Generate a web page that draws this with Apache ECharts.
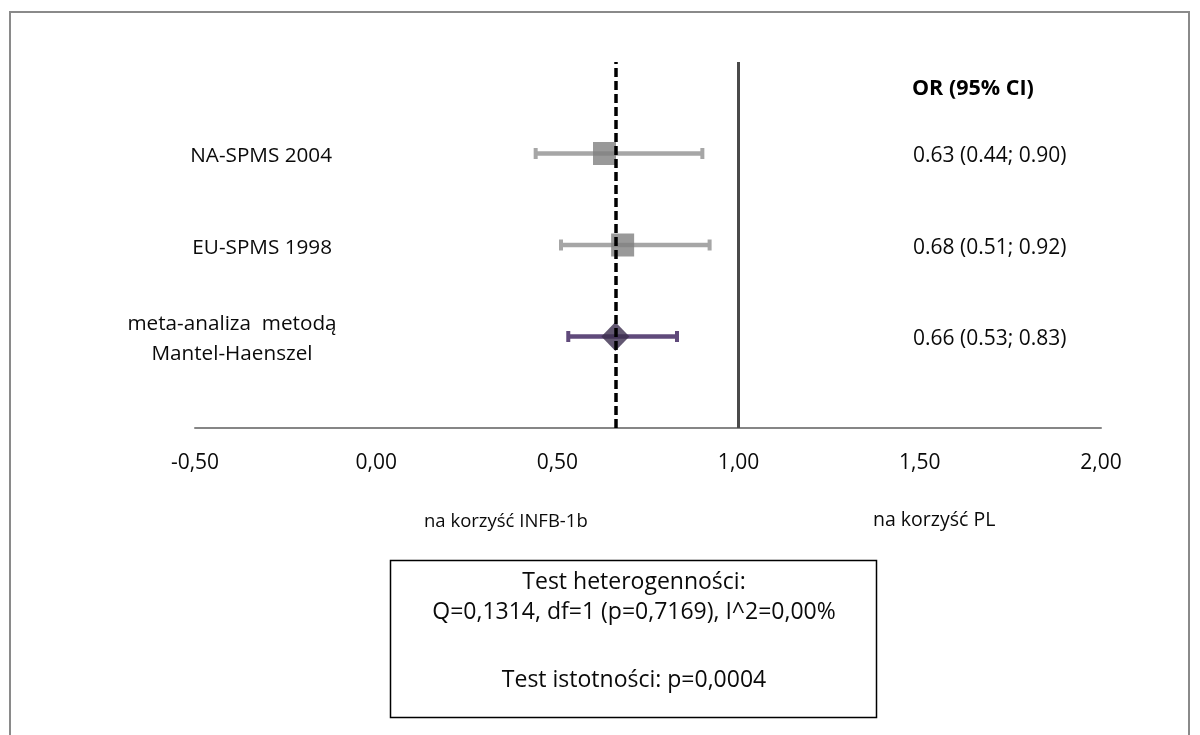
<!DOCTYPE html>
<html>
<head>
<meta charset="utf-8">
<script src="https://cdn.jsdelivr.net/npm/echarts@6/dist/echarts.min.js"></script>
<style>
  html, body { margin: 0; padding: 0; background: #ffffff; }
  #chart { width: 1200px; height: 735px; }
</style>
</head>
<body>
<div id="chart"></div>
<script>
// Forest plot: odds ratios with 95% confidence intervals
const studies = ['NA-SPMS 2004', 'EU-SPMS 1998', 'meta-analiza  metodą\nMantel-Haenszel'];
const rowPos = [3, 2, 1];
const orValues = [0.63, 0.68, 0.66];
const ciLow = [0.44, 0.51, 0.53];
const ciHigh = [0.90, 0.92, 0.83];
const pooledOR = 0.66;
const noEffect = 1.0;
const xMin = -0.5, xMax = 2.0, xStep = 0.5;

const FONT = '"Open Sans", "DejaVu Sans", sans-serif';
const INK = '#0a0a0a';

const orLabels = orValues.map((v, i) =>
  v.toFixed(2) + ' (' + ciLow[i].toFixed(2) + '; ' + ciHigh[i].toFixed(2) + ')');

const studyRows = [0, 1];   // individual trials
const pooledRow = 2;        // Mantel-Haenszel summary

const chart = echarts.init(document.getElementById('chart'), null, { renderer: 'canvas' });

// single-line names are right-aligned; two-line names are centred in a fixed box
function studyLabel(v) {
  const i = rowPos.indexOf(v);
  if (i < 0) return '';
  const lines = studies[i].split('\n');
  if (lines.length === 1) return '{s|' + lines[0] + '}';
  return lines.map(s => '{m|' + s + '}').join('\n');
}

function orLabel(v) {
  const i = rowPos.indexOf(v);
  return i < 0 ? '' : '{r|' + orLabels[i] + '}';
}

const option = {
  animation: false,
  backgroundColor: '#ffffff',
  grid: { left: 195, right: 99, top: 62, bottom: 307, containLabel: false },
  xAxis: {
    type: 'value',
    min: xMin, max: xMax, interval: xStep,
    axisLine: { show: true, onZero: false, lineStyle: { color: '#868686', width: 2 } },
    axisTick: { show: false },
    splitLine: { show: false },
    axisLabel: {
      margin: 25,
      color: INK,
      fontFamily: FONT,
      fontSize: 21,
      formatter: v => v.toFixed(2).replace('.', ',')
    }
  },
  yAxis: [
    {
      type: 'value', min: 0, max: 4, interval: 1, position: 'left',
      axisLine: { show: false }, axisTick: { show: false }, splitLine: { show: false },
      axisLabel: {
        margin: -137,
        align: 'right',
        color: INK,
        fontFamily: FONT,
        fontSize: 20.7,
        padding: [6, 0, 0, 0],
        formatter: studyLabel,
        rich: {
          s: { fontFamily: FONT, fontSize: 20.7, lineHeight: 30, color: INK },
          m: { width: 200, align: 'center', fontFamily: FONT, fontSize: 20.7, lineHeight: 30, color: INK }
        }
      }
    },
    {
      type: 'value', min: 0, max: 4, interval: 1, position: 'right',
      axisLine: { show: false }, axisTick: { show: false }, splitLine: { show: false },
      axisLabel: {
        margin: -188,
        align: 'left',
        color: INK,
        fontFamily: FONT,
        fontSize: 21,
        formatter: orLabel,
        rich: {
          r: { fontFamily: FONT, fontSize: 21, lineHeight: 26, color: INK, padding: [6, 0, 0, 0] }
        }
      }
    }
  ],
  series: [
    {
      // confidence interval whiskers with end caps
      type: 'custom',
      z: 2,
      data: rowPos.map((y, i) => [y, ciLow[i], ciHigh[i], i === pooledRow ? 1 : 0]),
      encode: { x: [1, 2], y: 0 },
      renderItem: function (params, api) {
        const y = api.value(0);
        const p1 = api.coord([api.value(1), y]);
        const p2 = api.coord([api.value(2), y]);
        const pooled = api.value(3) === 1;
        const color = pooled ? '#604A7B' : '#A6A6A6';
        const w = 4.5;
        const capH = 11, capW = 4;
        return {
          type: 'group',
          children: [
            { type: 'line', shape: { x1: p1[0], y1: p1[1], x2: p2[0], y2: p2[1] },
              style: { stroke: color, lineWidth: w } },
            { type: 'rect', shape: { x: p1[0] - capW / 2, y: p1[1] - capH / 2, width: capW, height: capH },
              style: { fill: color } },
            { type: 'rect', shape: { x: p2[0] - capW / 2, y: p2[1] - capH / 2, width: capW, height: capH },
              style: { fill: color } }
          ]
        };
      }
    },
    {
      // individual trial estimates
      type: 'scatter',
      z: 3,
      symbol: 'rect',
      symbolSize: 23,
      itemStyle: { color: '#7F7F7F' },
      data: studyRows.map(i => [orValues[i], rowPos[i]])
    },
    {
      // pooled estimate
      type: 'scatter',
      z: 3,
      symbol: 'diamond',
      symbolSize: [28, 29],
      itemStyle: { color: '#3B2D4E' },
      data: [[orValues[pooledRow], rowPos[pooledRow]]]
    },
    {
      // reference lines: no effect and pooled OR
      type: 'line',
      z: 5,
      data: [],
      markLine: {
        silent: true,
        symbol: ['none', 'none'],
        label: { show: false },
        data: [
          { xAxis: noEffect, lineStyle: { color: '#4A4A4A', width: 3, type: 'solid' } },
          { xAxis: pooledOR, lineStyle: { color: '#000000', width: 3.5, type: [9, 4] } }
        ]
      }
    }
  ],
  graphic: [
    { type: 'rect', z: 0, silent: true,
      shape: { x: 10, y: 12, width: 1179, height: 760 },
      style: { fill: 'none', stroke: '#8A8A8A', lineWidth: 2 } },
    { type: 'text', x: 912, y: 89,
      style: { text: 'OR (95% CI)', font: 'bold 21.5px ' + FONT, fill: '#000000',
               textAlign: 'left', textVerticalAlign: 'middle' } },
    { type: 'text', x: 424, y: 522,
      style: { text: 'na korzyść INFB-1b', font: '18.5px ' + FONT, fill: INK,
               textAlign: 'left', textVerticalAlign: 'middle' } },
    { type: 'text', x: 873, y: 520,
      style: { text: 'na korzyść PL', font: '19.5px ' + FONT, fill: INK,
               textAlign: 'left', textVerticalAlign: 'middle' } },
    { type: 'rect', silent: true,
      shape: { x: 390.5, y: 560.5, width: 486, height: 157 },
      style: { fill: '#ffffff', stroke: '#000000', lineWidth: 1.5 } },
    { type: 'text', x: 634, y: 582,
      style: { text: 'Test heterogenności:', font: '23px ' + FONT, fill: INK,
               textAlign: 'center', textVerticalAlign: 'middle' } },
    { type: 'text', x: 634, y: 612,
      style: { text: 'Q=0,1314, df=1 (p=0,7169), I^2=0,00%', font: '23px ' + FONT, fill: INK,
               textAlign: 'center', textVerticalAlign: 'middle' } },
    { type: 'text', x: 634, y: 680,
      style: { text: 'Test istotności: p=0,0004', font: '23px ' + FONT, fill: INK,
               textAlign: 'center', textVerticalAlign: 'middle' } }
  ]
};

chart.setOption(option);
</script>
</body>
</html>
